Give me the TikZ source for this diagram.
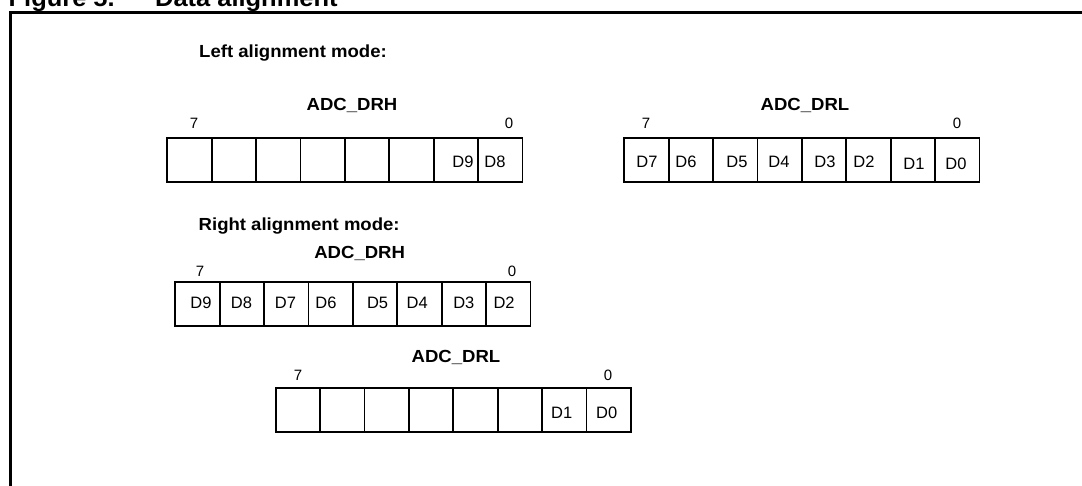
\documentclass[tikz,border=0pt]{standalone}
\usepackage{fontspec}
\setmainfont{Liberation Sans}
\newfontfamily\lblfont{Liberation Sans}[FakeStretch=1.06]
\begin{document}
\begin{tikzpicture}[x=1pt,y=-1pt,
  cell/.style={draw, line width=1.8pt, minimum width=44.4pt, minimum height=44.1pt, inner sep=0pt, outer sep=0pt},
  dtext/.style={anchor=base, inner sep=0pt, font=\fontsize{16.5}{19}\selectfont},
  bitnum/.style={anchor=base, inner sep=0pt, font=\fontsize{15}{18}\selectfont},
  regname/.style={anchor=base, inner sep=0pt, font=\lblfont\bfseries\fontsize{17.5}{21}\selectfont},
  modetitle/.style={anchor=base west, inner sep=0pt, font=\lblfont\bfseries\fontsize{17.5}{21}\selectfont},
  figtitle/.style={anchor=base west, inner sep=0pt, font=\lblfont\bfseries\fontsize{24}{28}\selectfont},
  frameline/.style={line width=2.6pt}]
\useasboundingbox (0,0) rectangle (1082,485);
\clip (0,0) rectangle (1082,485);

% figure title (cut off at the top)
\node[figtitle] (fignum) at (8.5,6) {Figure 5.};
\node[figtitle] (figname) at (155,6) {Data alignment};

% frame (open at right and bottom)
\coordinate (fbl) at (10.5,486);
\coordinate (ftl) at (10.5,12.5);
\coordinate (ftr) at (1083,12.5);
\draw[frameline] (fbl) -- (ftl) -- (ftr);

% ---------------- Left alignment mode ----------------
\node[modetitle] (lmode) at (199,57.3) {Left alignment mode:};

% ADC_DRH
\node[regname] (lhname) at (352,110) {ADC\_DRH};
\node[bitnum] (lh7) at (194,128.3) {7};
\node[bitnum] (lh0) at (509,128.3) {0};
\foreach \i in {1,...,8}
  \node[cell] (lh\i) at ({167.3+(\i-0.5)*44.4},159.65) {};
\node[dtext] (lhd9) at (463,167.3) {D9};
\node[dtext] (lhd8) at (495,167.3) {D8};

% ADC_DRL
\node[regname] (llname) at (805,110) {ADC\_DRL};
\node[bitnum] (ll7) at (646,128.3) {7};
\node[bitnum] (ll0) at (957,128.3) {0};
\foreach \i in {1,...,8}
  \node[cell] (ll\i) at ({624.3+(\i-0.5)*44.4},159.65) {};
\node[dtext] (lld7) at (647,167.3) {D7};
\node[dtext] (lld6) at (686,167.3) {D6};
\node[dtext] (lld5) at (737,167.3) {D5};
\node[dtext] (lld4) at (779,167.3) {D4};
\node[dtext] (lld3) at (825,167.3) {D3};
\node[dtext] (lld2) at (864,167.3) {D2};
\node[dtext] (lld1) at (914,169) {D1};
\node[dtext] (lld0) at (956,169) {D0};

% ---------------- Right alignment mode ----------------
\node[modetitle] (rmode) at (198.5,230) {Right alignment mode:};

% ADC_DRH
\node[regname] (rhname) at (359.7,258.3) {ADC\_DRH};
\node[bitnum] (rh7) at (200,276) {7};
\node[bitnum] (rh0) at (512,276) {0};
\foreach \i in {1,...,8}
  \node[cell] (rh\i) at ({175.2+(\i-0.5)*44.4},304) {};
\node[dtext] (rhd9) at (201,308.3) {D9};
\node[dtext] (rhd8) at (241.4,308.3) {D8};
\node[dtext] (rhd7) at (285.5,308.3) {D7};
\node[dtext] (rhd6) at (325.9,308.3) {D6};
\node[dtext] (rhd5) at (377.6,308.3) {D5};
\node[dtext] (rhd4) at (417.2,308.3) {D4};
\node[dtext] (rhd3) at (463.8,308.3) {D3};
\node[dtext] (rhd2) at (504.1,308.3) {D2};

% ADC_DRL
\node[regname] (rlname) at (456,362.3) {ADC\_DRL};
\node[bitnum] (rl7) at (298,380) {7};
\node[bitnum] (rl0) at (608,380) {0};
\foreach \i in {1,...,8}
  \node[cell] (rl\i) at ({275.7+(\i-0.5)*44.4},410) {};
\node[dtext] (rld1) at (561.7,418.3) {D1};
\node[dtext] (rld0) at (606.7,418.3) {D0};
\end{tikzpicture}
\end{document}
